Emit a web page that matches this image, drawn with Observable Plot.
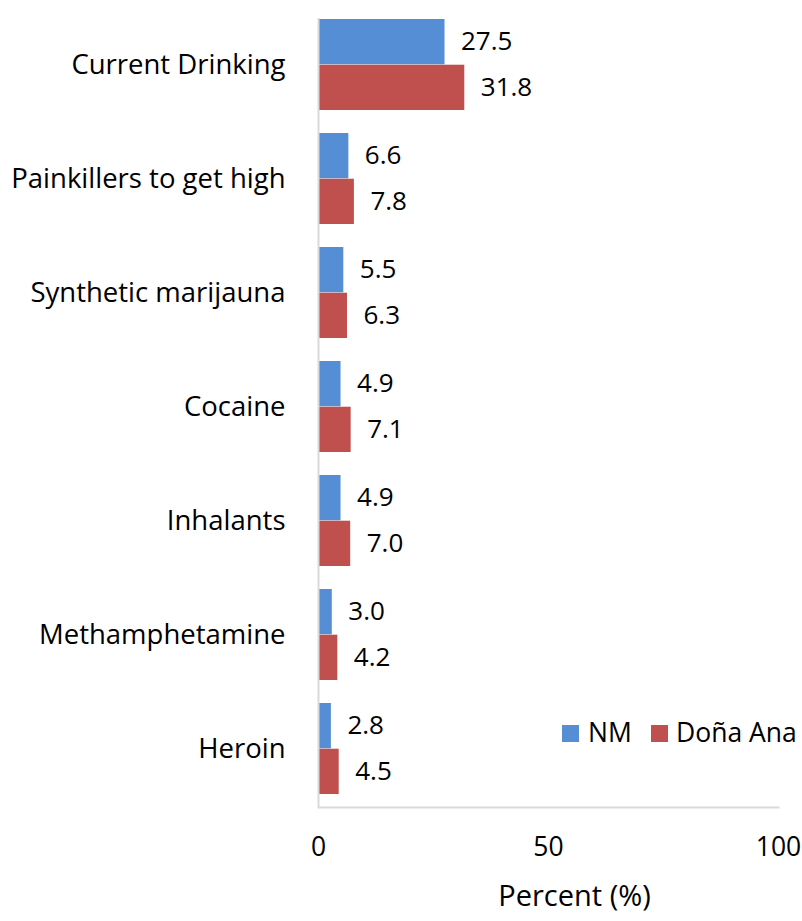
<!DOCTYPE html>
<html><head><meta charset="utf-8">
<script src="https://cdn.jsdelivr.net/npm/d3@7"></script>
<script src="https://cdn.jsdelivr.net/npm/@observablehq/plot@0.6"></script>
<style>
body{margin:0;background:#fff;font-family:"Open Sans",sans-serif}
#wrap{position:relative;width:802px;height:921px}
.sw{position:absolute;width:17px;height:17px}
.lt{position:absolute;font-size:26.5px;line-height:26px;color:#000;white-space:nowrap}
</style></head><body><div id="wrap"></div>
<script>
const categories = ["Current Drinking","Painkillers to get high","Synthetic marijauna","Cocaine","Inhalants","Methamphetamine","Heroin"];
const nm = [27.5, 6.6, 5.5, 4.9, 4.9, 3.0, 2.8];
const donaAna = [31.8, 7.8, 6.3, 7.1, 7.0, 4.2, 4.5];
const seriesNames = ["NM", "Doña Ana"];
const colors = ["#558ED5", "#C0504D"];
const xTicks = [0, 50, 100];

const W = 802, H = 921, mT = 7, mB = 114, mL = 318, mR = 24;
const pInner = 0.2, pOuter = 0.1;
const step = (H - mT - mB) / (categories.length - pInner + 2 * pOuter);
const half = step * (1 - pInner) / 2;

const data = categories.flatMap((c, i) => [
  {category: c, series: seriesNames[0], value: nm[i]},
  {category: c, series: seriesNames[1], value: donaAna[i]}
]);
const nmData = data.filter(d => d.series === seriesNames[0]);
const daData = data.filter(d => d.series === seriesNames[1]);

const chart = Plot.plot({
  width: W, height: H,
  marginTop: mT, marginBottom: mB, marginLeft: mL, marginRight: mR,
  style: {fontSize: "26px", fontFamily: "'Open Sans', sans-serif", color: "#000", background: "#fff"},
  x: {domain: [0, 100]},
  y: {domain: categories, paddingInner: pInner, paddingOuter: pOuter},
  color: {domain: seriesNames, range: colors},
  marks: [
    Plot.barX(nmData, {x: "value", y: "category", fill: "series", insetBottom: half}),
    Plot.barX(daData, {x: "value", y: "category", fill: "series", insetTop: half}),
    Plot.text(nmData, {x: "value", y: "category", text: d => d.value.toFixed(1), dy: -half / 2, dx: 16, textAnchor: "start", fill: "#000", fontSize: 26}),
    Plot.text(daData, {x: "value", y: "category", text: d => d.value.toFixed(1), dy: half / 2, dx: 16, textAnchor: "start", fill: "#000", fontSize: 26}),
    Plot.ruleX([0], {stroke: "#d9d9d9", strokeWidth: 2, insetTop: 11}),
    Plot.frame({anchor: "bottom", stroke: "#d9d9d9", strokeWidth: 2}),
    Plot.axisX({ticks: xTicks, tickSize: 0, tickPadding: 30, label: null, fill: "#000", fontSize: 26.5}),
    Plot.axisY({tickSize: 0, tickPadding: 33, label: null, fill: "#000", fontSize: 27.5}),
    Plot.text(["Percent (%)"], {frameAnchor: "bottom", dy: 98, dx: 26, fill: "#000", fontSize: 29})
  ]
});
const wrap = document.getElementById("wrap");
wrap.appendChild(chart);

// legend (inside plot area, bottom right)
const legendPos = [{sx: 562, tx: 588}, {sx: 651, tx: 676}];
seriesNames.forEach((s, i) => {
  const sw = document.createElement("div");
  sw.className = "sw";
  sw.style.left = legendPos[i].sx + "px";
  sw.style.top = "725px";
  sw.style.background = colors[i];
  wrap.appendChild(sw);
  const t = document.createElement("div");
  t.className = "lt";
  t.style.left = legendPos[i].tx + "px";
  t.style.top = "719px";
  t.textContent = s;
  wrap.appendChild(t);
});
</script></body></html>
